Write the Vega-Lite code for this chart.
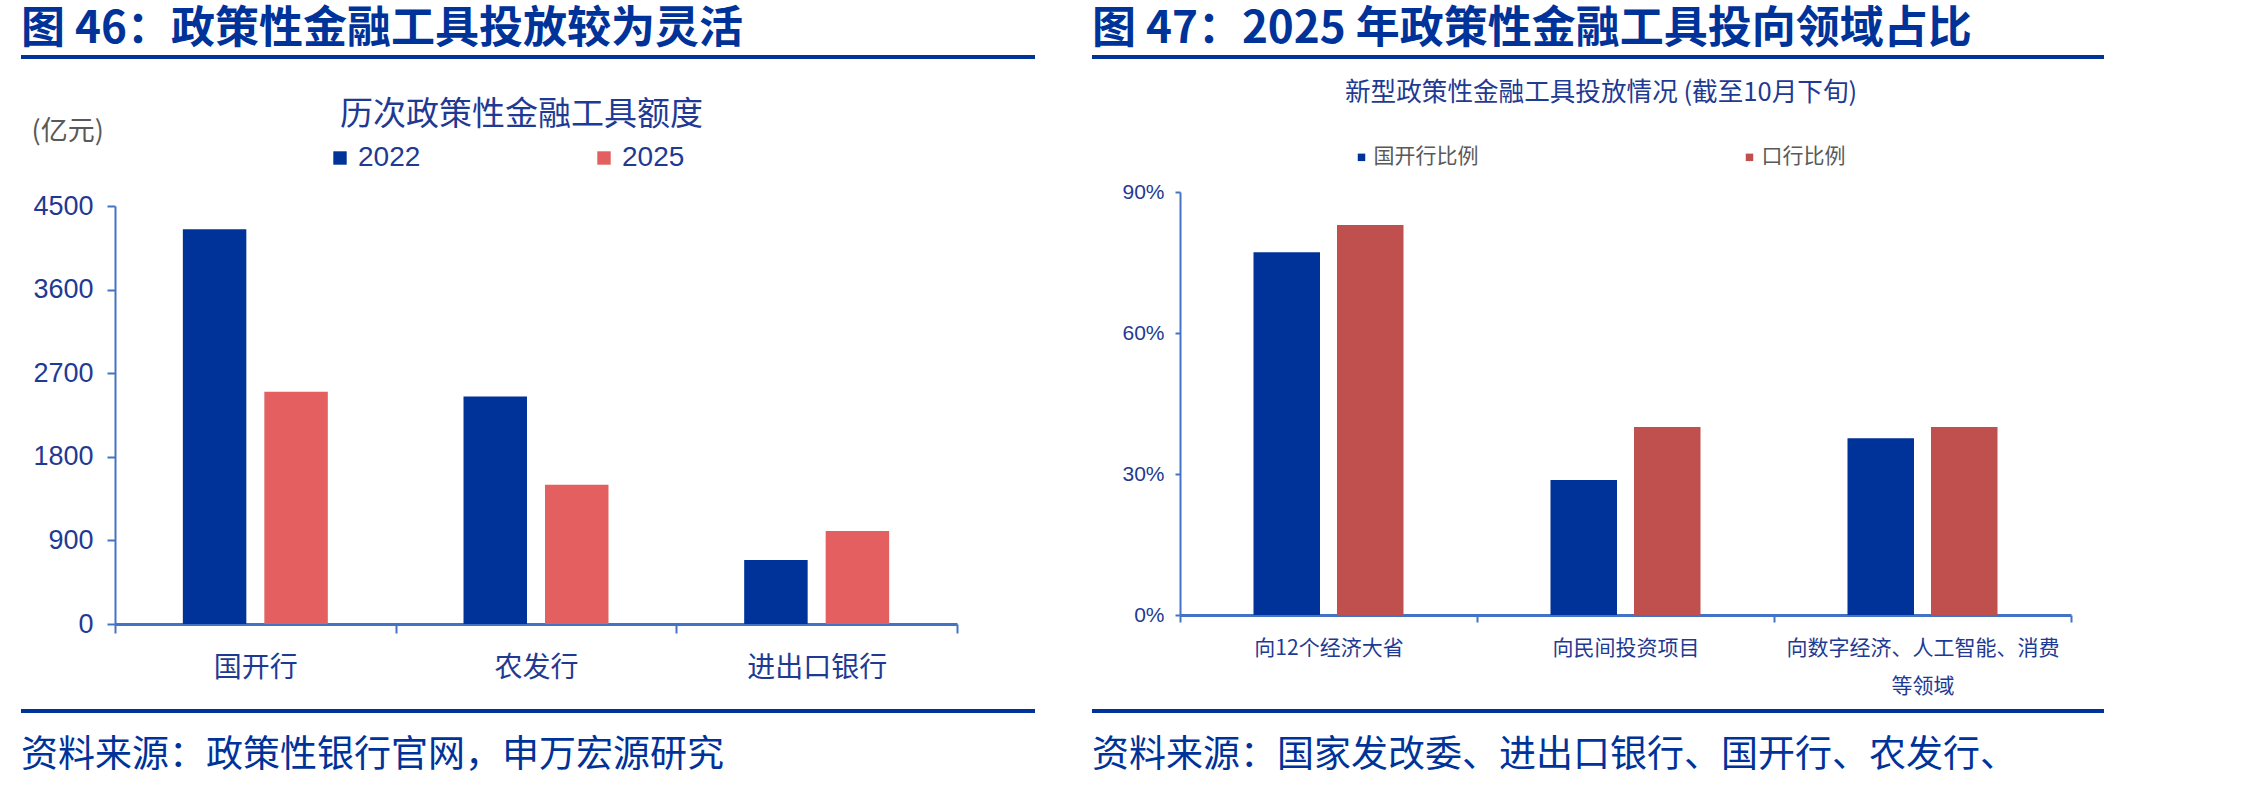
{
  "$schema": "https://vega.github.io/schema/vega-lite/v6.json",
  "padding": {"left": 21, "top": 8, "right": 0, "bottom": 6},
  "background": "white",
  "config": {"view": {"stroke": null}, "font": "Noto Sans CJK SC"},
  "spacing": 57,
  "resolve": {"scale": {"color": "independent", "xOffset": "independent", "x": "independent", "y": "independent"}, "legend": {"color": "independent"}, "axis": {"x": "independent", "y": "independent"}},
  "hconcat": [
    {
      "spacing": 85,
      "bounds": "flush",
      "resolve": {"scale": {"color": "independent", "xOffset": "independent", "x": "independent", "y": "independent"}, "legend": {"color": "independent"}, "axis": {"x": "independent", "y": "independent"}},
      "vconcat": [
        {
          "width": 1014, "height": 4,
          "data": {"values": [{}]},
          "mark": {"type": "rect", "color": "#003399"},
          "encoding": {},
          "title": {"text": "图 46：政策性金融工具投放较为灵活", "anchor": "start", "frame": "group", "font": "Noto Sans CJK SC", "fontSize": 44, "fontWeight": "bold", "color": "#003399", "baseline": "alphabetic", "offset": -32}
        },
        {
          "width": 1014, "height": 480,
          "data": {"values": [
            {"bank": "国开行", "year": "2022", "amount": 4250},
            {"bank": "国开行", "year": "2025", "amount": 2500},
            {"bank": "农发行", "year": "2022", "amount": 2450},
            {"bank": "农发行", "year": "2025", "amount": 1500},
            {"bank": "进出口银行", "year": "2022", "amount": 690},
            {"bank": "进出口银行", "year": "2025", "amount": 1000}
          ]},
          "mark": {"type": "bar"},
          "encoding": {
            "x": {"field": "bank", "type": "nominal", "sort": null,
              "scale": {"range": [94, 936], "paddingInner": 0, "paddingOuter": 0},
              "axis": {"title": null, "labelAngle": 0, "labelFont": "Noto Sans CJK SC", "labelFontSize": 28, "labelColor": "#1F3A93", "labelPadding": 21, "tickBand": "extent", "tickSize": 9, "tickColor": "#4472C4", "tickWidth": 2, "domainColor": "#4472C4", "domainWidth": 3}},
            "xOffset": {"field": "year", "type": "nominal", "sort": null,
              "scale": {"paddingInner": 0.221, "paddingOuter": 0.8325}},
            "y": {"field": "amount", "type": "quantitative",
              "scale": {"domain": [0, 4500], "range": [480, 62], "nice": false},
              "axis": {"title": "(亿元)", "titleAngle": 0, "titleAlign": "left", "titleBaseline": "middle", "titleX": -84, "titleY": -13, "titleFont": "Noto Sans CJK SC", "titleFontSize": 27, "titleFontWeight": "normal", "titleColor": "#595959",
                "values": [0, 900, 1800, 2700, 3600, 4500], "format": "d", "labelFont": "Liberation Sans", "labelFontSize": 27, "labelColor": "#1F3A93", "labelPadding": 14, "tickSize": 8, "tickColor": "#4472C4", "tickWidth": 2, "domainColor": "#4472C4", "domainWidth": 2, "grid": false, "offset": -94}},
            "color": {"field": "year", "type": "nominal",
              "scale": {"domain": ["2022", "2025"], "range": ["#003399", "#E46060"]},
              "legend": {"orient": "none", "legendX": 319, "legendY": -45, "direction": "horizontal", "columns": 2, "columnPadding": 176, "padding": 0,
                "title": "历次政策性金融工具额度", "titleFont": "Noto Sans CJK SC", "titleFontSize": 33, "titleFontWeight": "normal", "titleColor": "#1F3A93", "titleAnchor": "start", "titlePadding": 12, "titleLimit": 1000,
                "labelFont": "Liberation Sans", "labelFontSize": 28, "labelColor": "#1F3A93", "labelOffset": 4, "labelLimit": 500, "symbolOffset": -14,
                "symbolType": "square", "symbolSize": 180, "symbolStrokeWidth": 0}}
          }
        },
        {
          "width": 1014, "height": 4,
          "data": {"values": [{}]},
          "mark": {"type": "rect", "color": "#003399"},
          "encoding": {},
          "title": {"text": "资料来源：政策性银行官网，申万宏源研究", "orient": "bottom", "anchor": "start", "frame": "group", "font": "Noto Sans CJK SC", "fontSize": 37, "fontWeight": "normal", "color": "#003399", "baseline": "alphabetic", "offset": 54}
        }
      ]
    },
    {
      "spacing": 94,
      "bounds": "flush",
      "resolve": {"scale": {"color": "independent", "xOffset": "independent", "x": "independent", "y": "independent"}, "legend": {"color": "independent"}, "axis": {"x": "independent", "y": "independent"}},
      "vconcat": [
        {
          "width": 1012, "height": 4,
          "data": {"values": [{}]},
          "mark": {"type": "rect", "color": "#003399"},
          "encoding": {},
          "title": {"text": "图 47：2025 年政策性金融工具投向领域占比", "anchor": "start", "frame": "group", "font": "Noto Sans CJK SC", "fontSize": 44, "fontWeight": "bold", "color": "#003399", "baseline": "alphabetic", "offset": -32}
        },
        {
          "width": 1012, "height": 462,
          "data": {"values": [
            {"area": "向12个经济大省", "type": "国开行比例", "share": 0.772},
            {"area": "向12个经济大省", "type": "口行比例", "share": 0.83},
            {"area": "向民间投资项目", "type": "国开行比例", "share": 0.287},
            {"area": "向民间投资项目", "type": "口行比例", "share": 0.40},
            {"area": "向数字经济、人工智能、消费等领域", "type": "国开行比例", "share": 0.376},
            {"area": "向数字经济、人工智能、消费等领域", "type": "口行比例", "share": 0.40}
          ]},
          "mark": {"type": "bar"},
          "encoding": {
            "x": {"field": "area", "type": "nominal", "sort": null,
              "scale": {"range": [88, 979], "paddingInner": 0, "paddingOuter": 0},
              "axis": {"title": null, "labelAngle": 0, "labelFont": "Noto Sans CJK SC", "labelFontSize": 21, "labelColor": "#1F3A93", "labelPadding": 15, "labelLineHeight": 38, "labelLimit": 1000,
                "labelExpr": "length(datum.label) > 10 ? [substring(datum.label, 0, 13), substring(datum.label, 13)] : datum.label",
                "tickBand": "extent", "tickSize": 7, "tickColor": "#4472C4", "tickWidth": 2, "domainColor": "#4472C4", "domainWidth": 3}},
            "xOffset": {"field": "type", "type": "nominal", "sort": null,
              "scale": {"paddingInner": 0.2036, "paddingOuter": 0.88}},
            "y": {"field": "share", "type": "quantitative",
              "scale": {"domain": [0, 0.9], "range": [462, 39], "nice": false},
              "axis": {"title": null, "values": [0, 0.3, 0.6, 0.9], "format": ".0%", "labelFont": "Liberation Sans", "labelFontSize": 21, "labelColor": "#1F3A93", "labelPadding": 11, "tickSize": 5, "tickColor": "#4472C4", "tickWidth": 2, "domainColor": "#4472C4", "domainWidth": 2, "grid": false, "offset": -88}},
            "color": {"field": "type", "type": "nominal",
              "scale": {"domain": ["国开行比例", "口行比例"], "range": ["#003399", "#C0504D"]},
              "legend": {"orient": "none", "legendX": 253, "legendY": -72, "direction": "horizontal", "columns": 2, "columnPadding": 254, "padding": 0,
                "title": "新型政策性金融工具投放情况 (截至10月下旬)", "titleFont": "Noto Sans CJK SC", "titleFontSize": 25.6, "titleFontWeight": "normal", "titleColor": "#1F3A93", "titleAnchor": "start", "titlePadding": 40, "titleLimit": 1000,
                "labelFont": "Noto Sans CJK SC", "labelFontSize": 21, "labelColor": "#595959", "labelOffset": 1.5, "labelLimit": 500, "symbolOffset": 6,
                "symbolType": "square", "symbolSize": 56, "symbolStrokeWidth": 0}}
          }
        },
        {
          "width": 1012, "height": 4,
          "data": {"values": [{}]},
          "mark": {"type": "rect", "color": "#003399"},
          "encoding": {},
          "title": {"text": "资料来源：国家发改委、进出口银行、国开行、农发行、", "orient": "bottom", "anchor": "start", "frame": "group", "font": "Noto Sans CJK SC", "fontSize": 37, "fontWeight": "normal", "color": "#003399", "baseline": "alphabetic", "offset": 54}
        }
      ]
    }
  ]
}
